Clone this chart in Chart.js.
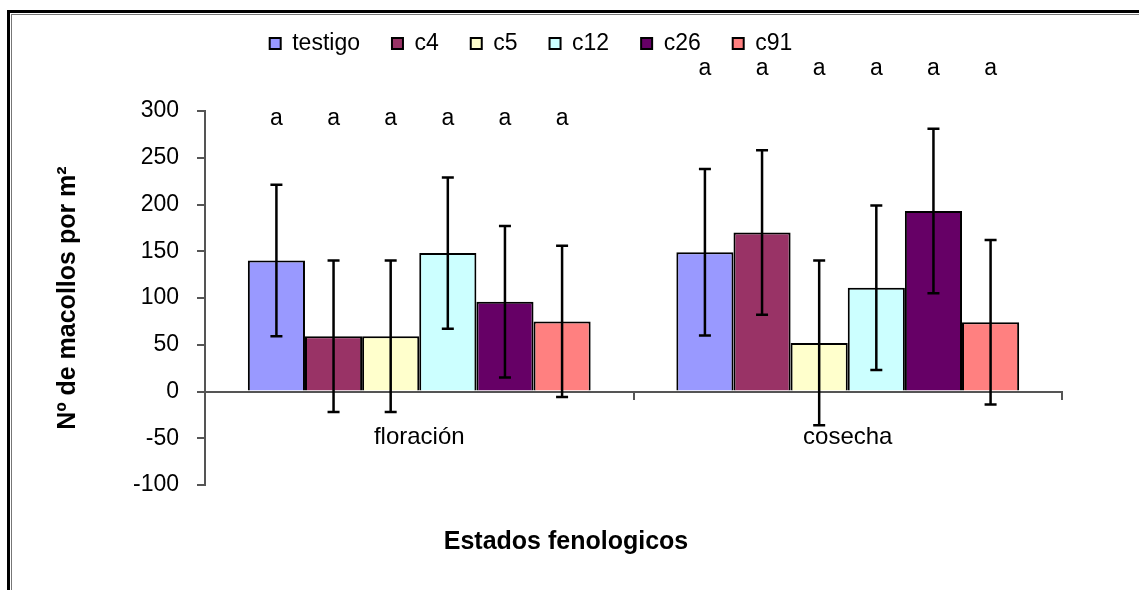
<!DOCTYPE html>
<html>
<head>
<meta charset="utf-8">
<script src="https://cdn.jsdelivr.net/npm/chart.js@4"></script>
<style>
  html, body { margin: 0; padding: 0; background: #fff; }
</style>
</head>
<body>
<canvas id="myChart" width="1139" height="590"></canvas>
<script>
// data
var categories = ['floración', 'cosecha'];
var testigo = [140, 149];
var c4 = [59, 170];
var c5 = [59, 52];
var c12 = [148, 111];
var c26 = [96, 193];
var c91 = [75, 74];
// error bar half-widths
var errTestigo = [81, 89];
var errC4 = [81, 88];
var errC5 = [81, 88];
var errC12 = [81, 88];
var errC26 = [81, 88];
var errC91 = [81, 88];
// significance letters per category
var lettersFloracion = ['a', 'a', 'a', 'a', 'a', 'a'];
var lettersCosecha = ['a', 'a', 'a', 'a', 'a', 'a'];
var yMin = -100, yMax = 300, yStep = 50;

var errorSets = [errTestigo, errC4, errC5, errC12, errC26, errC91];
var letterSets = [lettersFloracion, lettersCosecha];
var letterLevel = [292, 345];

Chart.defaults.font.family = '"Liberation Sans", Arial, sans-serif';
Chart.defaults.color = '#000';

var frame = {
  id: 'frame',
  beforeDraw: function(chart) {
    var ctx = chart.ctx, w = chart.width, h = chart.height;
    ctx.save();
    ctx.fillStyle = '#fff';
    ctx.fillRect(0, 0, w, h);
    ctx.fillStyle = '#000';
    ctx.fillRect(7, 10, w - 7, 3);
    ctx.fillRect(7, 10, 3, h - 10);
    ctx.fillStyle = '#777';
    ctx.fillRect(11, 14, 1, h - 14);
    ctx.fillRect(11, 14, w - 11, 1);
    ctx.restore();
  }
};

var legendHeight = {
  id: 'legendHeight',
  beforeInit: function(chart) {
    var fit = chart.legend.fit;
    chart.legend.fit = function() {
      fit.bind(chart.legend)();
      this.height = 111;
    };
  }
};

var extras = {
  id: 'extras',
  afterDatasetsDraw: function(chart) {
    var ctx = chart.ctx, y = chart.scales.y;
    ctx.save();
    ctx.strokeStyle = '#000';
    ctx.lineWidth = 2.5;
    chart.data.datasets.forEach(function(ds, di) {
      var meta = chart.getDatasetMeta(di);
      meta.data.forEach(function(bar, i) {
        var v = ds.data[i], e = errorSets[di][i];
        var top = y.getPixelForValue(v + e), bot = y.getPixelForValue(v - e);
        ctx.beginPath();
        ctx.moveTo(bar.x, top); ctx.lineTo(bar.x, bot);
        ctx.moveTo(bar.x - 6, top); ctx.lineTo(bar.x + 6, top);
        ctx.moveTo(bar.x - 6, bot); ctx.lineTo(bar.x + 6, bot);
        ctx.stroke();
      });
    });
    ctx.restore();
  },
  afterDraw: function(chart) {
    var ctx = chart.ctx, y = chart.scales.y;
    ctx.save();
    ctx.fillStyle = '#000';
    ctx.textAlign = 'center';
    ctx.textBaseline = 'middle';
    ctx.font = '23px "Liberation Sans", Arial, sans-serif';
    chart.data.datasets.forEach(function(ds, di) {
      var meta = chart.getDatasetMeta(di);
      meta.data.forEach(function(bar, i) {
        ctx.fillText(letterSets[i][di], bar.x, y.getPixelForValue(letterLevel[i]));
      });
    });
    ctx.font = 'bold 25px "Liberation Sans", Arial, sans-serif';
    ctx.fillText('Estados fenologicos', 566, 542);
    ctx.restore();
  }
};

function series(label, data, color) {
  return {
    label: label,
    data: data,
    backgroundColor: color,
    borderColor: '#000',
    borderWidth: 2,
    barPercentage: 1.0,
    categoryPercentage: 0.8
  };
}

var ctx = document.getElementById('myChart').getContext('2d');
var myChart = new Chart(ctx, {
  type: 'bar',
  data: {
    labels: categories,
    datasets: [
      series('testigo', testigo, '#9999FF'),
      series('c4', c4, '#993366'),
      series('c5', c5, '#FFFFCC'),
      series('c12', c12, '#CCFFFF'),
      series('c26', c26, '#660066'),
      series('c91', c91, '#FF8080')
    ]
  },
  options: {
    responsive: false,
    animation: false,
    layout: { padding: { left: 0, right: 77, top: 0, bottom: 105 } },
    plugins: {
      legend: {
        position: 'top',
        labels: {
          boxWidth: 11,
          boxHeight: 11,
          padding: 32,
          color: '#000',
          font: { size: 23 }
        }
      },
      tooltip: { enabled: false }
    },
    scales: {
      x: {
        position: { y: 0 },
        offset: true,
        ticks: { color: '#000', font: { size: 24 }, padding: 24 },
        grid: { drawOnChartArea: false, offset: true, color: '#555', tickLength: 7, lineWidth: 2 },
        border: { color: '#555', width: 2 }
      },
      y: {
        min: yMin,
        max: yMax,
        ticks: { stepSize: yStep, color: '#000', font: { size: 23 }, padding: 18 },
        grid: { drawOnChartArea: false, color: '#555', tickLength: 8, lineWidth: 2 },
        border: { color: '#555', width: 2 },
        title: {
          display: true,
          text: 'Nº de macollos por m²',
          color: '#000',
          font: { size: 25, weight: 'bold' },
          padding: { top: 53, bottom: 0 }
        },
        afterFit: function(scale) { scale.width = 205; }
      }
    }
  },
  plugins: [frame, legendHeight, extras]
});
</script>
</body>
</html>
